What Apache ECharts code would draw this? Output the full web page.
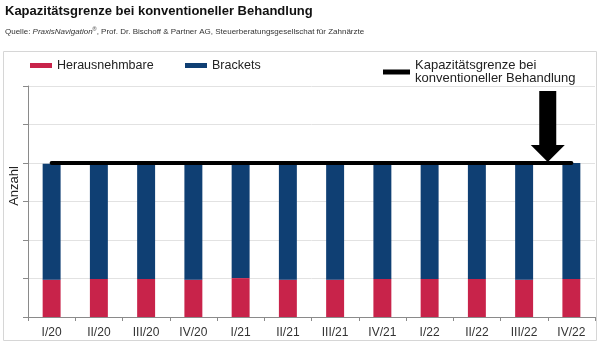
<!DOCTYPE html>
<html>
<head>
<meta charset="utf-8">
<script src="https://cdn.jsdelivr.net/npm/echarts@6/dist/echarts.min.js"></script>
<style>
  html, body { margin: 0; padding: 0; background: #fff; }
  #chart { width: 600px; height: 343px; }
</style>
</head>
<body>
<div id="chart"></div>
<script>
// Quarters shown on the x axis
const quarters = ['I/20', 'II/20', 'III/20', 'IV/20', 'I/21', 'II/21', 'III/21', 'IV/21', 'I/22', 'II/22', 'III/22', 'IV/22'];
// Removable appliances (lower segment)
const herausnehmbare = [0.97, 0.99, 0.99, 0.97, 1.01, 0.97, 0.97, 0.99, 0.99, 0.99, 0.97, 0.99];
// Fixed brackets (upper segment)
const brackets = [3.01, 3.01, 3.01, 3.03, 2.99, 3.03, 3.03, 3.01, 3.01, 3.01, 3.03, 3.01];
// Capacity limit under conventional treatment
const kapazitaet = [4, 4, 4, 4, 4, 4, 4, 4, 4, 4, 4, 4];

const RED = '#C8234A';
const BLUE = '#0F3F73';
const FONT = 'Liberation Sans, Arial, sans-serif';
const LIMIT_NAME = 'Kapazitätsgrenze bei konventioneller Behandlung';

const chart = echarts.init(document.getElementById('chart'), null, { renderer: 'canvas' });

const legendBase = {
  top: 59,
  padding: 0,
  itemWidth: 22,
  itemHeight: 5,
  itemGap: 10,
  icon: 'rect',
  selectedMode: false,
  textStyle: { fontFamily: FONT, fontSize: 12.5, color: '#222' }
};

chart.setOption({
  animation: false,
  backgroundColor: '#fff',
  title: {
    text: 'Kapazitätsgrenze bei konventioneller Behandlung',
    left: 5,
    top: 5,
    padding: 0,
    itemGap: 8,
    textStyle: { fontFamily: FONT, fontSize: 13, fontWeight: 'bold', color: '#111' },
    subtext: '{n|Quelle: }{i|PraxisNavigation}{s|®}{n|, Prof. Dr. Bischoff & Partner AG, Steuerberatungsgesellschat für Zahnärzte}',
    subtextStyle: {
      fontFamily: FONT,
      fontSize: 8,
      color: '#333',
      rich: {
        n: { fontFamily: FONT, fontSize: 8, color: '#333' },
        i: { fontFamily: FONT, fontSize: 8, color: '#333', fontStyle: 'italic' },
        s: { fontFamily: FONT, fontSize: 5.5, color: '#333', verticalAlign: 'top', padding: [0, 0, 5, 0] }
      }
    }
  },
  legend: [
    Object.assign({}, legendBase, { left: 30, data: ['Herausnehmbare'] }),
    Object.assign({}, legendBase, { left: 185, data: ['Brackets'] }),
    Object.assign({}, legendBase, {
      left: 383,
      itemWidth: 27,
      data: [LIMIT_NAME],
      formatter: () => 'Kapazitätsgrenze bei\nkonventioneller Behandlung',
      textStyle: { fontFamily: FONT, fontSize: 13, color: '#222', lineHeight: 13, verticalAlign: 'top', padding: [-7, 0, 0, 0] }
    })
  ],
  grid: { left: 28, right: 5, top: 86, bottom: 26, containLabel: false },
  xAxis: {
    type: 'category',
    data: quarters,
    boundaryGap: true,
    axisLine: { lineStyle: { color: '#8a8a8a', width: 1 } },
    axisTick: { show: true, length: 4, alignWithLabel: false, lineStyle: { color: '#8a8a8a' } },
    axisLabel: { fontFamily: FONT, fontSize: 12, color: '#333', margin: 10 }
  },
  yAxis: {
    type: 'value',
    min: 0,
    max: 6,
    interval: 1,
    axisLine: { show: true, lineStyle: { color: '#8a8a8a', width: 1 } },
    axisTick: { show: true, inside: false, length: 5, lineStyle: { color: '#8a8a8a' } },
    axisLabel: { show: false },
    splitLine: { show: true, lineStyle: { color: '#e2e2e2', width: 1 } }
  },
  series: [
    {
      name: 'Herausnehmbare',
      type: 'bar',
      stack: 'total',
      data: herausnehmbare,
      barWidth: '38%',
      itemStyle: { color: RED }
    },
    {
      name: 'Brackets',
      type: 'bar',
      stack: 'total',
      data: brackets,
      barWidth: '38%',
      itemStyle: { color: BLUE }
    },
    {
      name: LIMIT_NAME,
      type: 'line',
      data: kapazitaet,
      symbol: 'none',
      z: 5,
      lineStyle: { color: '#000', width: 4, cap: 'round' },
      itemStyle: { color: '#000' }
    }
  ]
});

// Frame, axis title and the arrow pointing at the capacity line
function drawOverlay() {
  const xa = chart.convertToPixel({ xAxisIndex: 0 }, quarters[10]);
  const xb = chart.convertToPixel({ xAxisIndex: 0 }, quarters[11]);
  const cx = (xa + xb) / 2;
  const tipY = chart.convertToPixel({ yAxisIndex: 0 }, kapazitaet[10]) - 1;
  const topY = 91;
  const headY = tipY - 17;
  const shaft = 8.5;
  const head = 17;

  chart.setOption({
    graphic: [
      {
        type: 'rect',
        silent: true,
        z: -1,
        shape: { x: 3.5, y: 51.5, width: 593, height: 289 },
        style: { fill: 'none', stroke: '#d6d6d6', lineWidth: 1 }
      },
      {
        type: 'text',
        silent: true,
        x: 14,
        y: 186,
        rotation: Math.PI / 2,
        style: {
          text: 'Anzahl',
          fontFamily: FONT,
          fontSize: 13,
          fill: '#222',
          align: 'center',
          verticalAlign: 'middle'
        }
      },
      {
        type: 'polygon',
        silent: true,
        z: 10,
        shape: {
          points: [
            [cx - shaft, topY],
            [cx + shaft, topY],
            [cx + shaft, headY],
            [cx + head, headY],
            [cx, tipY],
            [cx - head, headY],
            [cx - shaft, headY]
          ]
        },
        style: { fill: '#000' }
      }
    ]
  });
}
drawOverlay();
</script>
</body>
</html>
